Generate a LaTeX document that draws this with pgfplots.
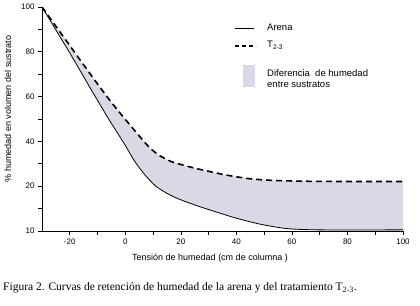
\documentclass[border=0pt]{standalone}
\usepackage{fontspec}
\setmainfont{Liberation Sans}
\newfontfamily\capfont{Liberation Serif}
\usepackage{pgfplots}
\usepackage{pgfplotstable}
\pgfplotsset{compat=1.18}
\usepgfplotslibrary{fillbetween}
\definecolor{fillc}{RGB}{218,216,228}

% moisture values (%); the axis below 20 is drawn at double scale (10 sits where 0 would)
\pgfplotstableread{
x y
-30 100
-20 79.5
-12 62.5
-6 50
-3.7 45.5
-0.1 38.4
3.5 30.9
7.1 25.0
10.7 20.3
14.3 18.65
17.9 17.5
21.5 16.6
25.1 15.8
30.2 14.75
35 13.8
40 12.85
48 11.6
55 10.8
60 10.45
70 10.25
100 10.25
}\arena

\pgfplotstableread{
x y
-30 100
-20 82.8
-12 69
-6 59
-2 52.8
1.1 48.2
4.7 42.9
8.3 37.8
11.9 34.0
16.7 30.9
21.5 29.2
25.1 28.0
30.2 26.6
35 25.3
40 24.2
45 23.3
50 22.8
55 22.5
65 22.2
80 22.1
100 22.1
}\tras

\begin{document}
\begin{tikzpicture}
\begin{axis}[
  at={(42pt,74pt)}, anchor=south west,
  scale only axis, width=361pt, height=224pt,
  xmin=-30, xmax=100, ymin=0, ymax=100,
  axis lines=left, axis line style={-, line width=0.6pt},
  tick align=outside, major tick length=4pt, minor tick length=4pt,
  tick style={line width=0.6pt, black},
  xtick={-20,0,20,40,60,80,100},
  xticklabels={-20,0,20,40,60,80,100},
  minor xtick={-10,10,30,50,70,90},
  ytick={0,20,40,60,80,100},
  yticklabels={10,20,40,60,80,100},
  minor ytick={10,30,50,70,90},
  tick label style={font=\fontsize{8}{9}\selectfont},
  clip=false,
]
\addplot[name path=A, draw=none, forget plot, smooth, tension=0.4] table[x=x, y expr={\thisrow{y}<20 ? 2*\thisrow{y}-20 : \thisrow{y}}] {\arena};
\addplot[name path=B, draw=none, forget plot, smooth, tension=0.4] table[x=x, y expr={\thisrow{y}<20 ? 2*\thisrow{y}-20 : \thisrow{y}}] {\tras};
\addplot[fill=fillc, draw=none] fill between[of=A and B];
\addplot[black, line width=0.8pt, smooth, tension=0.4] table[x=x, y expr={\thisrow{y}<20 ? 2*\thisrow{y}-20 : \thisrow{y}}] {\arena};
\addplot[black, line width=1.6pt, dash pattern=on 6pt off 4pt, smooth, tension=0.4] table[x=x, y expr={\thisrow{y}<20 ? 2*\thisrow{y}-20 : \thisrow{y}}] {\tras};
\end{axis}
% axis titles
\node[rotate=90, font=\fontsize{9}{10}\selectfont] at (8pt,196pt) {\% humedad en volumen del sustrato};
\node[font=\fontsize{9}{10}\selectfont] at (210pt,47pt) {Tensión de humedad (cm de columna )};
% legend
\draw[black, line width=0.8pt] (235pt,277pt) -- (254pt,277pt);
\node[anchor=west, font=\fontsize{9.5}{11}\selectfont, inner sep=0pt] at (267pt,278pt) {Arena};
\draw[black, line width=1.2pt, dash pattern=on 4pt off 3pt] (235pt,259pt) -- (256pt,259pt);
\node[anchor=west, font=\fontsize{9.5}{11}\selectfont, inner sep=0pt] at (267pt,260pt) {T\textsubscript{2-3}};
\fill[fillc] (243pt,218pt) rectangle (255pt,240pt);
\node[anchor=west, font=\fontsize{9.5}{11}\selectfont, inner sep=0pt] at (267pt,232pt) {Diferencia\ \ de humedad};
\node[anchor=west, font=\fontsize{9.5}{11}\selectfont, inner sep=0pt] at (267pt,221pt) {entre sustratos};
% caption
\node[anchor=west, font=\capfont\fontsize{11.5}{13}\selectfont, inner sep=0pt] at (3pt,17pt) {Figura 2. Curvas de retención de humedad de la arena y del tratamiento T\textsubscript{2-3}.};
\pgfresetboundingbox
\useasboundingbox (0,0) rectangle (420pt,305pt);
\end{tikzpicture}
\end{document}
